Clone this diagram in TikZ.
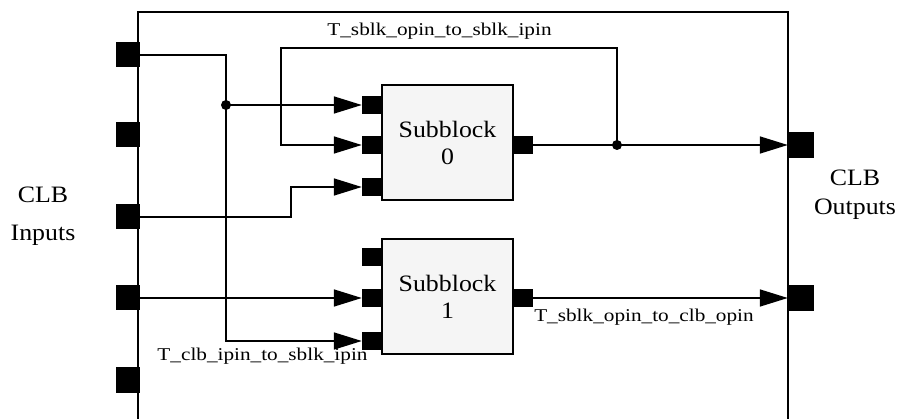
\documentclass[tikz,border=0pt]{standalone}
\usepackage{fontspec}
\setmainfont{Liberation Serif}[FakeStretch=1.1]
\newfontfamily\lblfont{Liberation Serif}[FakeStretch=1.18]
\usepackage{tikz}
\usetikzlibrary{arrows.meta, positioning, calc}

\begin{document}
\begin{tikzpicture}[
  x=1pt, y=-1pt,
  clbpin/.style={rectangle, fill=black, inner sep=0pt,
    minimum width=24pt, minimum height=25pt},
  outpin/.style={clbpin, minimum width=26pt, minimum height=26pt},
  sbpin/.style={rectangle, fill=black, inner sep=0pt,
    minimum width=20pt, minimum height=18pt},
  subblock/.style={rectangle, draw, line width=1.6pt, fill=black!4,
    minimum width=131pt, minimum height=115pt, align=center,
    font=\fontsize{23.5}{27}\selectfont},
  wire/.style={line width=1.6pt},
  arr/.style={wire, -{Triangle[length=28pt, width=17pt]}},
  lbl/.style={font=\lblfont\fontsize{18}{22}\selectfont, inner sep=0pt},
  side/.style={align=center, inner sep=0pt,
    font=\fontsize{23.5}{29}\selectfont}
]
  % CLB boundary (bottom edge runs out of the picture)
  \clip (0,0) rectangle (902,419);
  \draw[line width=2pt] (138,12) rectangle (788,450);

  % CLB pins
  \foreach \i/\y in {1/55,2/135,3/217,4/298,5/380}
    \node[clbpin] (in\i) at (128,\y) {};
  \node[outpin] (out1) at (801,145) {};
  \node[outpin] (out2) at (801,298) {};

  \node[side, anchor=north] (clbin) at (43,187) {CLB\\[9pt]Inputs};
  \node[side, anchor=north] (clbout) at (855,170) {CLB\\Outputs};

  % Subblocks
  \node[subblock] (sb0) at (447.5,142.5) {Subblock\\0};
  \node[subblock] (sb1) at (447.5,296.5) {Subblock\\1};
  \foreach \p/\y in {1/105,2/145,3/187}
    \node[sbpin] (sb0in\p) at (372,\y) {};
  \foreach \p/\y in {1/257,2/298,3/341}
    \node[sbpin] (sb1in\p) at (372,\y) {};
  \node[sbpin] (sb0out) at (522.5,145) {};
  \node[sbpin] (sb1out) at (522.5,298) {};

  % Connections
  \coordinate (split) at (226,105);
  \coordinate (fb) at (617,145);
  \coordinate (looptop) at (281,48);
  \coordinate (bend3) at (291,187);

  \draw[arr] (in1.east) -| (split) |- (sb1in3.west);
  \draw[arr] (split) -- (sb0in1.west);
  \fill (split) circle (5pt);
  \draw[arr] (sb0out.east) -- (out1.west);
  \draw[arr] (fb) |- (looptop) |- (sb0in2.west);
  \fill (fb) circle (5pt);
  \draw[arr] (in3.east) -| (bend3) -- (sb0in3.west);
  \draw[arr] (in4.east) -- (sb1in2.west);
  \draw[arr] (sb1out.east) -- (out2.west);

  % Timing labels
  \node[lbl, anchor=base] (tfb) at (439.5,36) {T\_sblk\_opin\_to\_sblk\_ipin};
  \node[lbl, anchor=base] (tin) at (262.5,360) {T\_clb\_ipin\_to\_sblk\_ipin};
  \node[lbl, anchor=base] (tout) at (644,322) {T\_sblk\_opin\_to\_clb\_opin};
\end{tikzpicture}
\end{document}
